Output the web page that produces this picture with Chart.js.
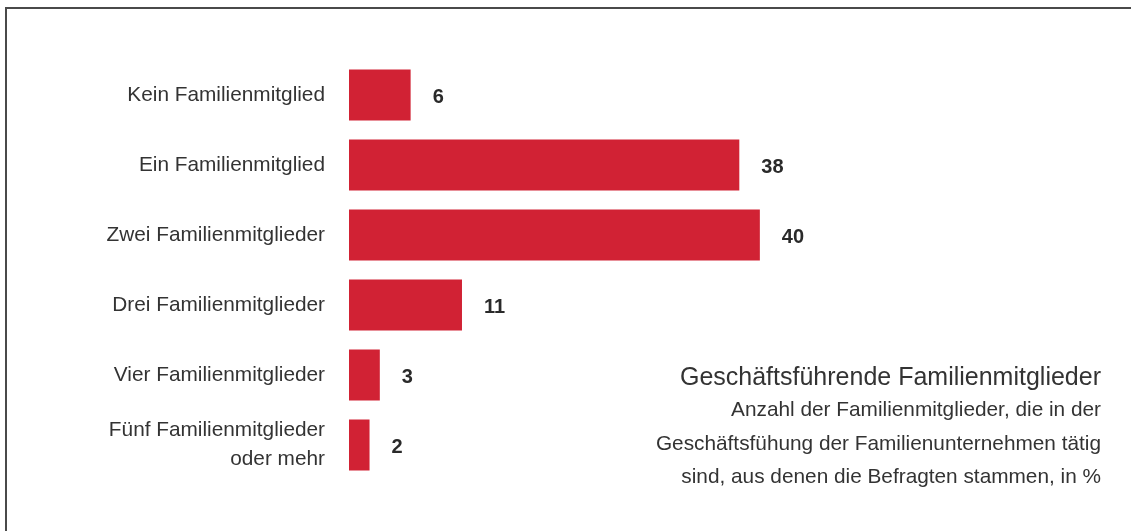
<!DOCTYPE html>
<html>
<head>
<meta charset="utf-8">
<script src="https://cdn.jsdelivr.net/npm/chart.js@4/dist/chart.umd.min.js"></script>
<style>
  body { margin: 0; background: #fff; }
  #wrap { position: relative; width: 1131px; height: 531px; }
  #frame {
    position: absolute; left: 5px; top: 7px; right: 0; bottom: 0;
    border-top: 2px solid #4a4a4a; border-left: 2px solid #4a4a4a;
  }
  #note {
    position: absolute; right: 30px; top: 361px; text-align: right;
    font-family: "Liberation Sans", Arial, sans-serif; color: #333;
  }
  #note .title { font-size: 25px; line-height: 31px; }
  #note .sub { font-size: 20.8px; line-height: 33.5px; }
</style>
</head>
<body>
<div id="wrap">
  <div id="frame"></div>
  <canvas id="myChart" width="1131" height="531"></canvas>
  <div id="note">
    <div class="title">Geschäftsführende Familienmitglieder</div>
    <div class="sub">Anzahl der Familienmitglieder, die in der<br>Geschäftsfühung der Familienunternehmen tätig<br>sind, aus denen die Befragten stammen, in %</div>
  </div>
</div>
<script>
// categories and values
var labels = [
  "Kein Familienmitglied",
  "Ein Familienmitglied",
  "Zwei Familienmitglieder",
  "Drei Familienmitglieder",
  "Vier Familienmitglieder",
  ["Fünf Familienmitglieder", "oder mehr"],
];
var values = [6, 38, 40, 11, 3, 2];

// draw value next to each bar
var valueLabels = {
  id: "valueLabels",
  afterDatasetsDraw: function (chart) {
    var ctx = chart.ctx;
    var meta = chart.getDatasetMeta(0);
    ctx.save();
    ctx.font = "bold 20px 'Liberation Sans', Arial, sans-serif";
    ctx.fillStyle = "#2a2a2a";
    ctx.textAlign = "left";
    ctx.textBaseline = "middle";
    meta.data.forEach(function (bar, i) {
      ctx.fillText(values[i], bar.x + 22, bar.y + 2);
    });
    ctx.restore();
  },
};

var ctx = document.getElementById("myChart").getContext("2d");
var myChart = new Chart(ctx, {
  type: "bar",
  data: {
    labels: labels,
    datasets: [
      {
        data: values,
        backgroundColor: "#d12234",
        borderWidth: 0,
        barPercentage: 0.73,
        categoryPercentage: 1,
      },
    ],
  },
  options: {
    indexAxis: "y",
    responsive: false,
    animation: false,
    layout: { padding: { top: 60, bottom: 51, left: 0, right: 63 } },
    plugins: { legend: { display: false }, tooltip: { enabled: false } },
    scales: {
      x: { display: false, min: 0, max: 70 },
      y: {
        afterFit: function (scale) {
          scale.width = 349;
        },
        border: { display: false },
        grid: { display: false, drawTicks: false },
        ticks: {
          padding: 24,
          color: "#333",
          font: { family: "'Liberation Sans', Arial, sans-serif", size: 20.8, lineHeight: 1.4 },
        },
      },
    },
  },
  plugins: [valueLabels],
});
</script>
</body>
</html>
